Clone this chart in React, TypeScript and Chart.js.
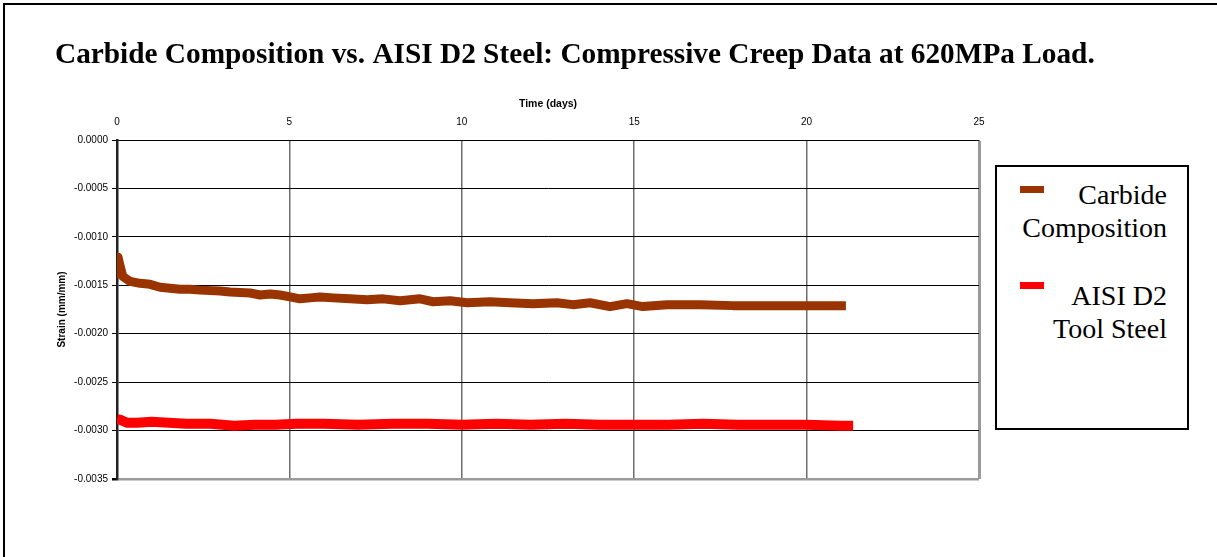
import React, { useEffect, useRef } from "react";
import { Chart, registerables } from "chart.js";

Chart.register(...registerables);

const chartTitle =
  "Carbide Composition vs. AISI D2 Steel: Compressive Creep Data at 620MPa Load.";
const xAxisTitle = "Time (days)";
const yAxisTitle = "Strain (mm/mm)";
const seriesNames = ["Carbide Composition", "AISI D2 Tool Steel"];
const legendLines = [
  ["Carbide", "Composition"],
  ["AISI D2", "Tool Steel"],
];
const seriesColors = ["#993300", "#FF0000"];
const xMin = 0;
const xMax = 25;
const xStep = 5;
const yMin = -0.0035;
const yMax = 0;
const yStep = 0.0005;

const carbideTime = [
  0, 0.03, 0.09, 0.17, 0.38, 0.67, 0.96, 1.25, 1.54, 1.83, 2.12, 2.41, 2.99,
  3.28, 3.86, 4.15, 4.44, 4.73, 5.02, 5.31, 5.6, 5.89, 6.27, 6.76, 7.25, 7.72,
  8.21, 8.79, 9.17, 9.66, 10.15, 10.82, 11.4, 12.06, 12.76, 13.22, 13.72, 14.3,
  14.79, 15.25, 15.95, 16.91, 17.86, 18.85, 19.81, 20.77, 21.14,
];
const carbideStrain = [
  -0.00143, -0.00121, -0.0013, -0.00141, -0.00146, -0.00148, -0.00149,
  -0.00152, -0.00153, -0.00154, -0.00154, -0.00155, -0.00156, -0.00157,
  -0.00158, -0.0016, -0.00159, -0.0016, -0.00162, -0.00164, -0.00163, -0.00162,
  -0.00163, -0.00164, -0.00165, -0.00164, -0.00166, -0.00164, -0.00167,
  -0.00166, -0.00168, -0.00167, -0.00168, -0.00169, -0.00168, -0.0017,
  -0.00168, -0.00172, -0.00169, -0.00172, -0.0017, -0.0017, -0.00171, -0.00171,
  -0.00171, -0.00171, -0.00171,
];

const steelTime = [
  0, 0.1, 0.3, 0.6, 1.0, 1.5, 2.0, 2.7, 3.4, 4.0, 4.6, 5.2, 6.0, 7.0, 8.0, 9.0,
  10.0, 11.0, 12.0, 13.0, 14.0, 15.0, 16.0, 17.0, 18.0, 19.0, 20.0, 21.0, 21.35,
];
const steelStrain = [
  -0.00288, -0.00289, -0.00292, -0.00292, -0.00291, -0.00292, -0.00293,
  -0.00293, -0.00295, -0.00294, -0.00294, -0.00293, -0.00293, -0.00294,
  -0.00293, -0.00293, -0.00294, -0.00293, -0.00294, -0.00293, -0.00294,
  -0.00294, -0.00294, -0.00293, -0.00294, -0.00294, -0.00294, -0.00295,
  -0.00295,
];

const SANS = "'Liberation Sans', Arial, sans-serif";
const SERIF = "'Liberation Serif', 'Times New Roman', serif";

function ChartCanvas() {
  const ref = useRef<HTMLCanvasElement | null>(null);
  useEffect(() => {
    if (!ref.current) return;
    const toPts = (xs: number[], ys: number[]) =>
      xs.map((x, i) => ({ x, y: ys[i] }));
    const chart = new Chart(ref.current, {
      type: "line",
      data: {
        datasets: [
          {
            label: seriesNames[0],
            data: toPts(carbideTime, carbideStrain),
            borderColor: seriesColors[0],
            backgroundColor: seriesColors[0],
            borderWidth: 9,
            pointRadius: 0,
            borderJoinStyle: "round",
            borderCapStyle: "butt",
            tension: 0,
            xAxisID: "x",
            yAxisID: "y",
          },
          {
            label: seriesNames[1],
            data: toPts(steelTime, steelStrain),
            borderColor: seriesColors[1],
            backgroundColor: seriesColors[1],
            borderWidth: 10,
            pointRadius: 0,
            borderJoinStyle: "round",
            borderCapStyle: "butt",
            tension: 0,
            xAxisID: "x",
            yAxisID: "y",
          },
        ],
      },
      options: {
        responsive: false,
        animation: false,
        devicePixelRatio: 1,
        layout: { padding: { left: 55, top: 0, right: 0, bottom: 78 } },
        plugins: {
          legend: { display: false },
          tooltip: { enabled: false },
          title: {
            display: true,
            text: chartTitle,
            align: "start",
            color: "#000",
            font: { family: SERIF, size: 29.3, weight: "bold", lineHeight: 1.2 },
            padding: { top: 37.5, bottom: 0 },
          },
        },
        scales: {
          x: {
            type: "linear",
            position: "top",
            min: xMin,
            max: xMax,
            afterFit: (s: any) => {
              s.height = 140 - 72.66;
            },
            ticks: {
              stepSize: xStep,
              color: "#000",
              padding: 12,
              maxRotation: 0,
              font: { family: SANS, size: 10 },
              callback: (v: any) => String(v),
            },
            grid: {
              drawTicks: false,
              color: (c: any) =>
                c.tick && c.tick.value === xMax ? "#9a9a9a" : "#6e6e6e",
              lineWidth: (c: any) =>
                c.tick && c.tick.value === xMax ? 3 : 1.5,
            },
            border: { display: true, color: "#000", width: 1 },
            title: {
              display: true,
              text: xAxisTitle,
              color: "#000",
              font: { family: SANS, size: 10.5, weight: "bold", lineHeight: 1.2 },
              padding: { top: 25.0, bottom: 0 },
            },
          },
          y: {
            type: "linear",
            position: "left",
            min: yMin,
            max: yMax,
            afterFit: (s: any) => {
              s.width = 62;
            },
            ticks: {
              stepSize: yStep,
              color: "#000",
              padding: 4,
              autoSkip: false,
              font: { family: SANS, size: 10 },
              callback: (v: any) => {
                const n = Math.abs(v) < 1e-9 ? 0 : Number(v);
                return n.toFixed(4);
              },
            },
            grid: {
              drawTicks: true,
              tickLength: 5,
              tickColor: "#000",
              color: (c: any) =>
                c.tick && Math.abs(c.tick.value - yMin) < 1e-9
                  ? "#9a9a9a"
                  : "#000",
              lineWidth: (c: any) =>
                c.tick && Math.abs(c.tick.value - yMin) < 1e-9 ? 2.5 : 1,
            },
            border: { display: true, color: "#222", width: 2.5 },
            title: {
              display: true,
              text: yAxisTitle,
              color: "#000",
              font: { family: SANS, size: 10, weight: "bold", lineHeight: 1.2 },
              padding: { top: 1, bottom: 0 },
            },
          },
          yRight: {
            type: "linear",
            position: "right",
            display: true,
            afterFit: (s: any) => {
              s.width = 238;
            },
            ticks: { display: false },
            grid: { display: false, drawTicks: false },
            border: { display: false },
            title: { display: false },
          },
        },
      },
    } as any);
    return () => chart.destroy();
  }, []);
  return (
    <canvas
      ref={ref}
      width={1217}
      height={557}
      style={{ position: "absolute", left: 0, top: 0, width: 1217, height: 557 }}
    />
  );
}

const legendSwatchTops = [186, 282];
const legendTextTops = [178, 279];

export default function App() {
  return (
    <div
      style={{
        position: "absolute",
        left: 0,
        top: 0,
        width: 1217,
        height: 557,
        overflow: "hidden",
        background: "#fff",
      }}
    >
      <ChartCanvas />
      <div
        style={{
          position: "absolute",
          left: 3,
          top: 3,
          width: 1400,
          height: 800,
          border: "2.5px solid #000",
          pointerEvents: "none",
        }}
      />
      <div
        style={{
          position: "absolute",
          left: 995,
          top: 165,
          width: 190,
          height: 261,
          border: "2px solid #000",
          background: "#fff",
        }}
      />
      {seriesNames.map((name, i) => (
        <React.Fragment key={name}>
          <div
            style={{
              position: "absolute",
              left: 1020,
              top: legendSwatchTops[i],
              width: 24,
              height: 7,
              background: seriesColors[i],
            }}
          />
          <div
            style={{
              position: "absolute",
              left: 1000,
              top: legendTextTops[i],
              width: 167,
              textAlign: "right",
              fontFamily: SERIF,
              fontSize: 28,
              lineHeight: "33px",
              color: "#000",
              whiteSpace: "nowrap",
            }}
          >
            {legendLines[i].map((ln) => (
              <div key={ln}>{ln}</div>
            ))}
          </div>
        </React.Fragment>
      ))}
    </div>
  );
}
